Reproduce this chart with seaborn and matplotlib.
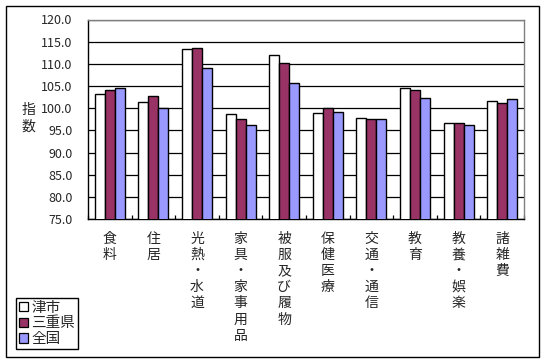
import matplotlib
matplotlib.use("Agg")
import matplotlib.pyplot as plt
import seaborn as sns
import pandas as pd
from matplotlib.patches import Rectangle, Patch

categories = ["食料", "住居", "光熱・水道", "家具・家事用品", "被服及び履物",
              "保健医療", "交通・通信", "教育", "教養・娯楽", "諸雑費"]
series_names = ["津市", "三重県", "全国"]
tsu = [103.3, 101.5, 113.3, 98.6, 112.1, 98.8, 97.7, 104.6, 96.6, 101.6]
mie = [104.0, 102.8, 113.5, 97.6, 110.3, 100.0, 97.5, 104.0, 96.6, 101.1]
zenkoku = [104.5, 100.0, 109.0, 96.1, 105.7, 99.1, 97.5, 102.2, 96.1, 102.0]
yticks = [75, 80, 85, 90, 95, 100, 105, 110, 115, 120]
colors = ["#FFFFFF", "#993366", "#9999FF"]

sns.set_style("white")
plt.rcParams['font.family'] = ['Noto Sans CJK JP', 'DejaVu Sans']

rows = []
for name, vals in zip(series_names, [tsu, mie, zenkoku]):
    for c, v in zip(categories, vals):
        rows.append({"cat": c, "series": name, "value": v})
df = pd.DataFrame(rows)

fig = plt.figure(figsize=(5.48, 3.63), dpi=100)
ax = fig.add_axes([88/548, 1-219/363, (524-88)/548, (219-19.5)/363])

sns.barplot(data=df, x="cat", y="value", hue="series", order=categories,
            hue_order=series_names, palette=colors, width=0.69, gap=0,
            edgecolor="black", linewidth=1.0, saturation=1, ax=ax,
            legend=False, zorder=3)

ax.set_ylim(75, 120)
ax.set_xlim(-0.5, len(categories) - 0.5)
ax.set_yticks(yticks)
ax.set_yticklabels([f"{v:.1f}" for v in yticks], fontsize=9)
ax.set_axisbelow(True)
ax.yaxis.grid(True, color="black", linewidth=0.9)
ax.set_xlabel("")
ax.set_ylabel("")

# vertical category labels
ax.set_xticks(range(len(categories)))
ax.set_xticklabels(["\n".join(list(c)) for c in categories], fontsize=10,
                   linespacing=1.2, va="top")
ax.tick_params(axis="x", which="major", length=0, pad=9)
ax.set_xticks([i + 0.5 for i in range(-1, len(categories))], minor=True)
ax.tick_params(axis="x", which="minor", length=3, width=0.9, color="black",
               direction="in", bottom=True)
ax.tick_params(axis="y", length=0, left=False, pad=11)

for s in ["left", "bottom"]:
    ax.spines[s].set_color("black")
    ax.spines[s].set_linewidth(1.0)
for s in ["top", "right"]:
    ax.spines[s].set_color("#808080")
    ax.spines[s].set_linewidth(1.0)

fig.text(28/548, 1-118/363, "指\n数", fontsize=10, ha="center", va="center",
         linespacing=1.25)

handles = [Patch(facecolor=c, edgecolor="black", linewidth=0.9) for c in colors]
leg = fig.legend(handles, series_names, loc="lower left",
                 bbox_to_anchor=(16/548, 1-349/363), fontsize=10.5,
                 frameon=True, fancybox=False, edgecolor="black",
                 framealpha=1, borderpad=0.2, handlelength=0.6,
                 handleheight=0.6, handletextpad=0.25, labelspacing=0.12,
                 borderaxespad=0)
leg.get_frame().set_linewidth(1.0)

fig.patches.append(Rectangle((6/548, 1-357/363), (539-6)/548, (357-6)/363,
                             transform=fig.transFigure, fill=False,
                             edgecolor="black", linewidth=1.0))

fig.savefig("out.png", dpi=100)
